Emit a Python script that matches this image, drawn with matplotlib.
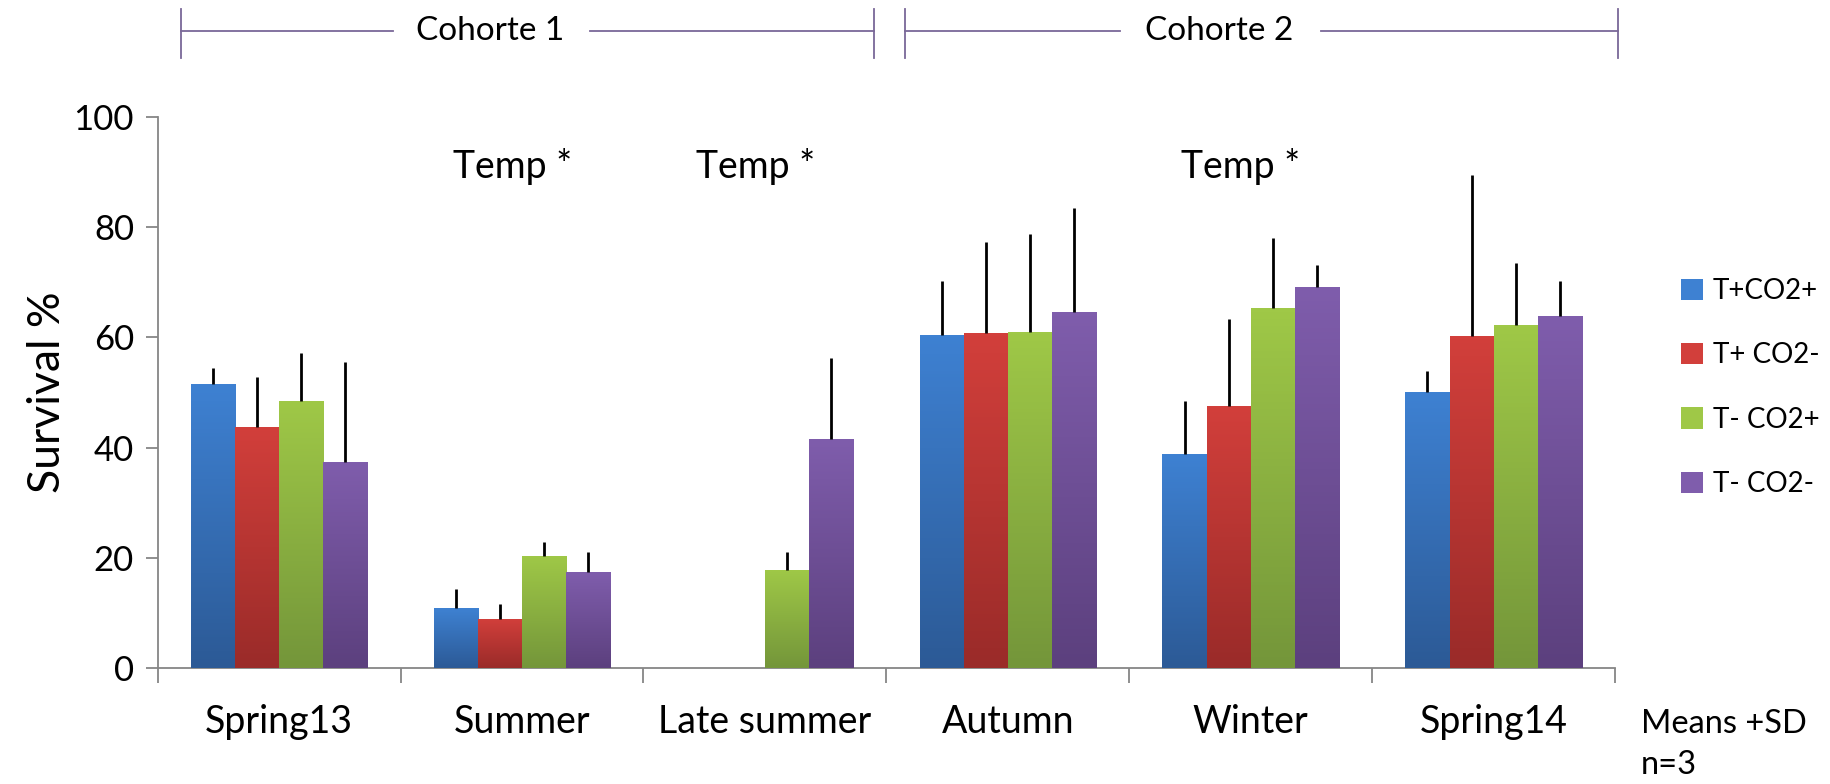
import numpy as np
import matplotlib.pyplot as plt
from matplotlib.colors import LinearSegmentedColormap
from matplotlib.transforms import blended_transform_factory
from matplotlib.patches import Patch

plt.rcParams['font.family'] = ['Lato', 'DejaVu Sans']

seasons = ['Spring13', 'Summer', 'Late summer', 'Autumn', 'Winter', 'Spring14']
groups = ['T+CO2+', 'T+ CO2-', 'T- CO2+', 'T- CO2-']

# means and SD
t_pos_co2_pos = [51.5, 10.8, 0.0, 60.5, 38.8, 50.0]
t_pos_co2_neg = [43.8, 8.9, 0.0, 60.7, 47.5, 60.2]
t_neg_co2_pos = [48.5, 20.4, 17.8, 61.0, 65.3, 62.3]
t_neg_co2_neg = [37.3, 17.4, 41.6, 64.5, 69.2, 63.8]

sd_pp = [3.0, 3.5, 0.0, 9.7, 9.7, 3.8]
sd_pn = [9.0, 2.7, 0.0, 16.5, 15.8, 29.3]
sd_np = [8.7, 2.4, 3.2, 17.8, 12.7, 11.2]
sd_nn = [18.3, 3.6, 14.6, 19.0, 4.0, 6.4]

means = [t_pos_co2_pos, t_pos_co2_neg, t_neg_co2_pos, t_neg_co2_neg]
sds = [sd_pp, sd_pn, sd_np, sd_nn]

# gradient (top, bottom)
colors = [('#3E81D2', '#2C5A96'), ('#D23F3B', '#9A2B29'),
          ('#9FC847', '#74963A'), ('#7F5DAC', '#5C407E')]

sig_labels = ['', 'Temp *', 'Temp *', '', 'Temp *', '']

fig = plt.figure(figsize=(18.31, 7.84), dpi=100)
ax = fig.add_axes([0.0861, 0.148, 0.796, 0.703])

x = np.arange(len(seasons))
w = 1 / 5.5
for i in range(4):
    pos = x + (i - 1.5) * w
    bars = ax.bar(pos, means[i], w, color=colors[i][0], zorder=2, linewidth=0)
    cmap = LinearSegmentedColormap.from_list('g%d' % i, [colors[i][1], colors[i][0]])
    for b in bars:
        h = b.get_height()
        if h <= 0:
            continue
        grad = np.linspace(0, 1, 100).reshape(-1, 1)
        im = ax.imshow(grad, cmap=cmap, origin='lower', aspect='auto', zorder=3,
                       extent=[b.get_x(), b.get_x() + b.get_width(), 0, h])
        im.set_clip_path(b)
    ax.errorbar(pos, means[i], yerr=[np.zeros(6), sds[i]], fmt='none',
                ecolor='black', elinewidth=2, capsize=0, zorder=4)

ax.set_xlim(-0.5, 5.5)
ax.set_ylim(0, 100)
ax.set_yticks(range(0, 101, 20))
ax.set_xticks(np.arange(-0.5, 6, 1))
ax.set_xticklabels([])
ax.set_xticks(x, minor=True)
ax.set_xticklabels(seasons, minor=True, fontsize=27)
ax.tick_params(axis='x', which='minor', length=0, pad=26)
ax.tick_params(axis='x', which='major', length=11, width=1.3, color='#868686', direction='out')
ax.tick_params(axis='y', length=9, width=1.3, color='#868686', labelsize=25, pad=8)
for s in ['top', 'right']:
    ax.spines[s].set_visible(False)
for s in ['left', 'bottom']:
    ax.spines[s].set_color('#868686')
    ax.spines[s].set_linewidth(1.3)
ax.set_ylabel('Survival %', fontsize=32, labelpad=4)

for i, lab in enumerate(sig_labels):
    if lab:
        ax.text(i - 0.04, 91, lab, ha='center', va='center', fontsize=27)

handles = [Patch(facecolor=c[0], edgecolor='none') for c in colors]
ax.legend(handles, groups, loc='center left', bbox_to_anchor=(1.028, 0.509),
          frameon=False, fontsize=20, handlelength=0.8, handleheight=0.8,
          labelspacing=1.38, handletextpad=0.35)

fig.text(0.896, 0.0765, 'Means +SD', fontsize=23.5, va='center', ha='left')
fig.text(0.896, 0.0245, 'n=3', fontsize=23.5, va='center', ha='left')

# cohort brackets
tr = blended_transform_factory(ax.transData, fig.transFigure)
bracket_color = '#7A6898'
yb = 0.961
for (x0, x1, t0, t1, label, xc) in [(-0.404, 2.447, 0.47, 1.28, 'Cohorte 1', 0.87),
                                    (2.577, 5.51, 3.46, 4.29, 'Cohorte 2', 3.87)]:
    ax.plot([x0, t0], [yb, yb], color=bracket_color, lw=1.3, transform=tr, clip_on=False)
    ax.plot([t1, x1], [yb, yb], color=bracket_color, lw=1.3, transform=tr, clip_on=False)
    for xx in (x0, x1):
        ax.plot([xx, xx], [0.926, 0.988], color=bracket_color, lw=1.3, transform=tr, clip_on=False)
    ax.text(xc, yb, label, ha='center', va='center', fontsize=24, transform=tr)

fig.savefig('out.png', dpi=100)
